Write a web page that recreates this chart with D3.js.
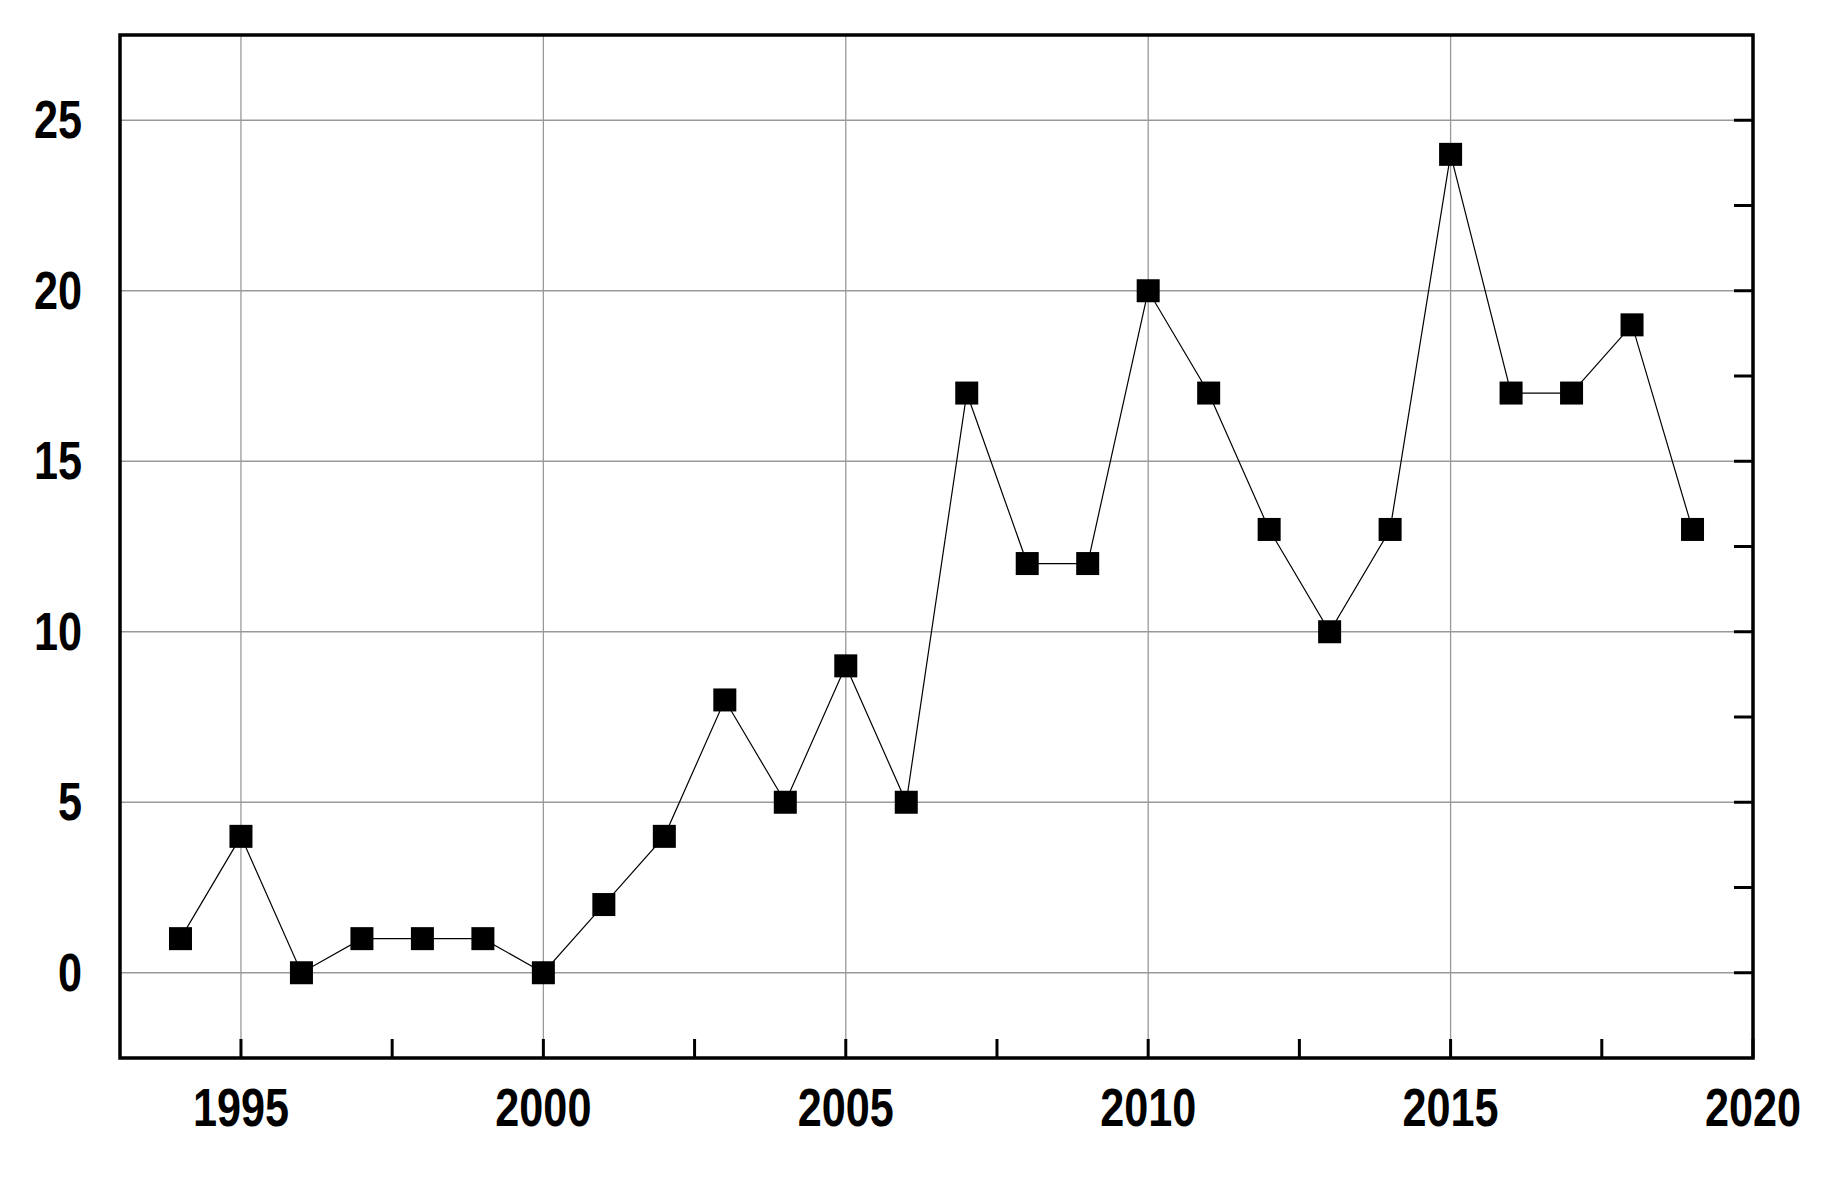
<!DOCTYPE html>
<html><head><meta charset="utf-8">
<script src="https://cdn.jsdelivr.net/npm/d3@7"></script>
<style>body{margin:0;background:#fff}</style></head>
<body><svg id="svg" width="1832" height="1193"></svg>
<script>
const years = d3.range(1994, 2020);
const counts = [1, 4, 0, 1, 1, 1, 0, 2, 4, 8, 5, 9, 5, 17, 12, 12, 20, 17, 13, 10, 13, 24, 17, 17, 19, 13];
const xTicks = [1995, 2000, 2005, 2010, 2015, 2020];
const yTicks = [0, 5, 10, 15, 20, 25];

const svg = d3.select("#svg");
const m = { left: 120, right: 1753, top: 35, bottom: 1058 };
const x = d3.scaleLinear().domain([1993, 2020]).range([m.left, m.right]);
const y = d3.scaleLinear().domain([-2.5, 27.5]).range([m.bottom, m.top]);
const tick = 19;

// grid
svg.append("g").selectAll("line").data(xTicks.slice(0, -1)).join("line")
  .attr("x1", d => x(d)).attr("x2", d => x(d)).attr("y1", m.top).attr("y2", m.bottom)
  .attr("stroke", "#999").attr("stroke-width", 1.3);
svg.append("g").selectAll("line").data(yTicks).join("line")
  .attr("x1", m.left).attr("x2", m.right).attr("y1", d => y(d)).attr("y2", d => y(d))
  .attr("stroke", "#999").attr("stroke-width", 1.3);

// inward ticks: bottom and right
const xt = d3.range(1995, 2020.1, 2.5);
svg.append("g").selectAll("line").data(xt).join("line")
  .attr("x1", d => x(d)).attr("x2", d => x(d)).attr("y1", m.bottom).attr("y2", m.bottom - tick)
  .attr("stroke", "#000").attr("stroke-width", 3);
const yt = d3.range(0, 27.5, 2.5);
svg.append("g").selectAll("line").data(yt).join("line")
  .attr("x1", m.right).attr("x2", m.right - tick).attr("y1", d => y(d)).attr("y2", d => y(d))
  .attr("stroke", "#000").attr("stroke-width", 3);

svg.append("rect").attr("x", m.left).attr("y", m.top)
  .attr("width", m.right - m.left).attr("height", m.bottom - m.top)
  .attr("fill", "none").attr("stroke", "#000").attr("stroke-width", 3.5);

// labels
const font = "'Liberation Sans', Arial, sans-serif";
svg.append("g").selectAll("text").data(xTicks).join("text")
  .attr("text-anchor", "middle").attr("font-family", font).attr("font-weight", "bold")
  .attr("font-size", 48).attr("transform", d => `translate(${x(d)},${m.bottom + 68}) scale(0.9,1.1)`)
  .text(d => d);
svg.append("g").selectAll("text").data(yTicks).join("text")
  .attr("text-anchor", "end").attr("font-family", font).attr("font-weight", "bold")
  .attr("font-size", 48).attr("transform", d => `translate(82,${y(d) + 18}) scale(0.9,1.1)`)
  .text(d => d);

const data = years.map((yr, i) => ({ yr, v: counts[i] }));
svg.append("path").datum(data)
  .attr("d", d3.line().x(d => x(d.yr)).y(d => y(d.v)))
  .attr("fill", "none").attr("stroke", "#000").attr("stroke-width", 1.2);
const s = 23;
svg.append("g").selectAll("rect").data(data).join("rect")
  .attr("x", d => x(d.yr) - s / 2).attr("y", d => y(d.v) - s / 2)
  .attr("width", s).attr("height", s).attr("fill", "#000");
</script></body></html>
